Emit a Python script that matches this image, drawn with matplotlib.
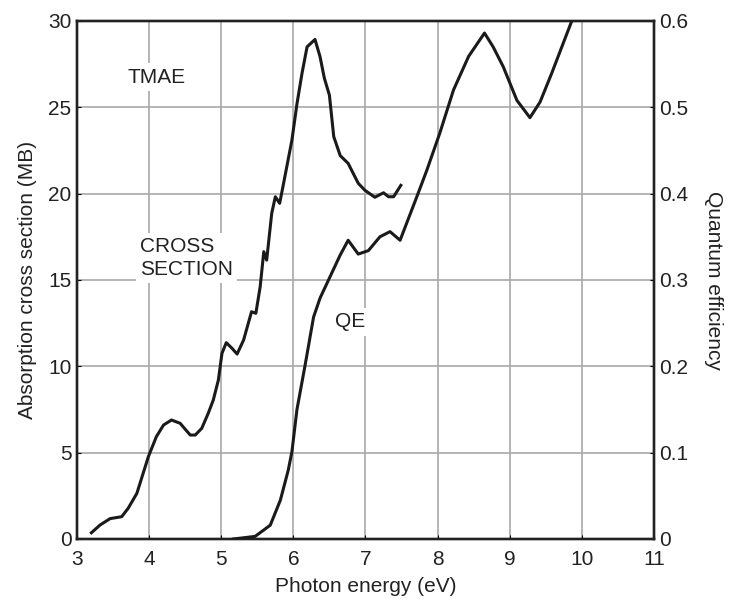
import numpy as np
import matplotlib.pyplot as plt

plt.rcParams['font.family'] = ['Liberation Sans', 'DejaVu Sans']

# absorption cross section (MB) vs photon energy (eV)
cs_x = [3.20, 3.32, 3.46, 3.62, 3.71, 3.83, 3.99, 4.10, 4.20, 4.31, 4.43,
        4.57, 4.64, 4.73, 4.82, 4.89, 4.96, 5.01, 5.07, 5.15, 5.22, 5.31,
        5.42, 5.48, 5.54, 5.59, 5.63, 5.70, 5.75, 5.81, 5.86, 5.98, 6.05,
        6.12, 6.19, 6.30, 6.37, 6.43, 6.50, 6.56, 6.65, 6.76, 6.83, 6.90,
        6.99, 7.13, 7.25, 7.32, 7.39, 7.49]
cs_y = [0.36, 0.81, 1.18, 1.29, 1.78, 2.64, 4.77, 5.92, 6.60, 6.89, 6.70,
        6.02, 6.02, 6.41, 7.28, 8.05, 9.20, 10.75, 11.37, 11.04, 10.71, 11.52,
        13.16, 13.07, 14.61, 16.64, 16.15, 18.86, 19.82, 19.44, 20.50, 23.10, 25.20,
        26.97, 28.50, 28.93, 27.93, 26.68, 25.70, 23.30, 22.20, 21.75, 21.17, 20.60,
        20.20, 19.79, 20.05, 19.82, 19.82, 20.48]

# quantum efficiency vs photon energy (eV)
qe_x = [5.17, 5.47, 5.68, 5.82, 5.93, 5.98, 6.05, 6.16, 6.28, 6.37, 6.51,
        6.65, 6.76, 6.90, 7.04, 7.20, 7.34, 7.48, 7.71, 7.85, 8.03, 8.22,
        8.43, 8.65, 8.77, 8.91, 9.10, 9.28, 9.42, 9.58, 9.86]
qe_y = [0.0, 0.003, 0.016, 0.045, 0.080, 0.101, 0.150, 0.200, 0.257, 0.279, 0.304,
        0.329, 0.346, 0.330, 0.334, 0.350, 0.356, 0.346, 0.396, 0.427, 0.470, 0.520,
        0.559, 0.586, 0.570, 0.547, 0.508, 0.488, 0.506, 0.539, 0.600]

fs = 15

fig = plt.figure(figsize=(7.29, 5.99), dpi=100)
ax = fig.add_axes([0.1056, 0.1002, 0.7915, 0.8648])
ax2 = ax.twinx()

for a in (ax, ax2):
    for s in a.spines.values():
        s.set_linewidth(1.7)
        s.set_color('#222222')
    a.tick_params(direction='in', length=3, labelsize=fs, pad=4, labelcolor='#222222')
ax.tick_params(axis='x', pad=8)

ax.set_xlim(3, 11)
ax.set_ylim(0, 30)
ax2.set_ylim(0, 0.6)
ax.set_xticks(range(3, 12))
ax.set_yticks(range(0, 31, 5))
ax2.set_yticks([0, 0.1, 0.2, 0.3, 0.4, 0.5, 0.6])
ax2.set_yticklabels(['0', '0.1', '0.2', '0.3', '0.4', '0.5', '0.6'])

ax.grid(True, color='#a8a8a8', linewidth=1.2)
ax.set_axisbelow(True)

ax.plot(cs_x, cs_y, color='#1a1a1a', linewidth=2.2, zorder=3)
ax2.plot(qe_x, qe_y, color='#1a1a1a', linewidth=2.2, zorder=3)

ax.set_xlabel('Photon energy (eV)', fontsize=fs, labelpad=6, color='#222222')
ax.set_ylabel('Absorption cross section (MB)', fontsize=fs, labelpad=8, color='#222222')
ax2.set_ylabel('Quantum efficiency', fontsize=fs, rotation=-90, labelpad=25, color='#222222')

box = dict(facecolor='white', edgecolor='none', pad=3)
ax.text(4.10, 26.75, 'TMAE', fontsize=fs, ha='center', va='center', bbox=box,
        zorder=4, color='#222222')
ax.text(3.87, 16.27, 'CROSS\nSECTION', fontsize=fs, ha='left', va='center',
        linespacing=1.25, bbox=box, zorder=4, color='#222222')
ax.text(6.79, 12.57, 'QE', fontsize=fs, ha='center', va='center', bbox=box,
        zorder=4, color='#222222')

fig.savefig('out.png', dpi=100)
